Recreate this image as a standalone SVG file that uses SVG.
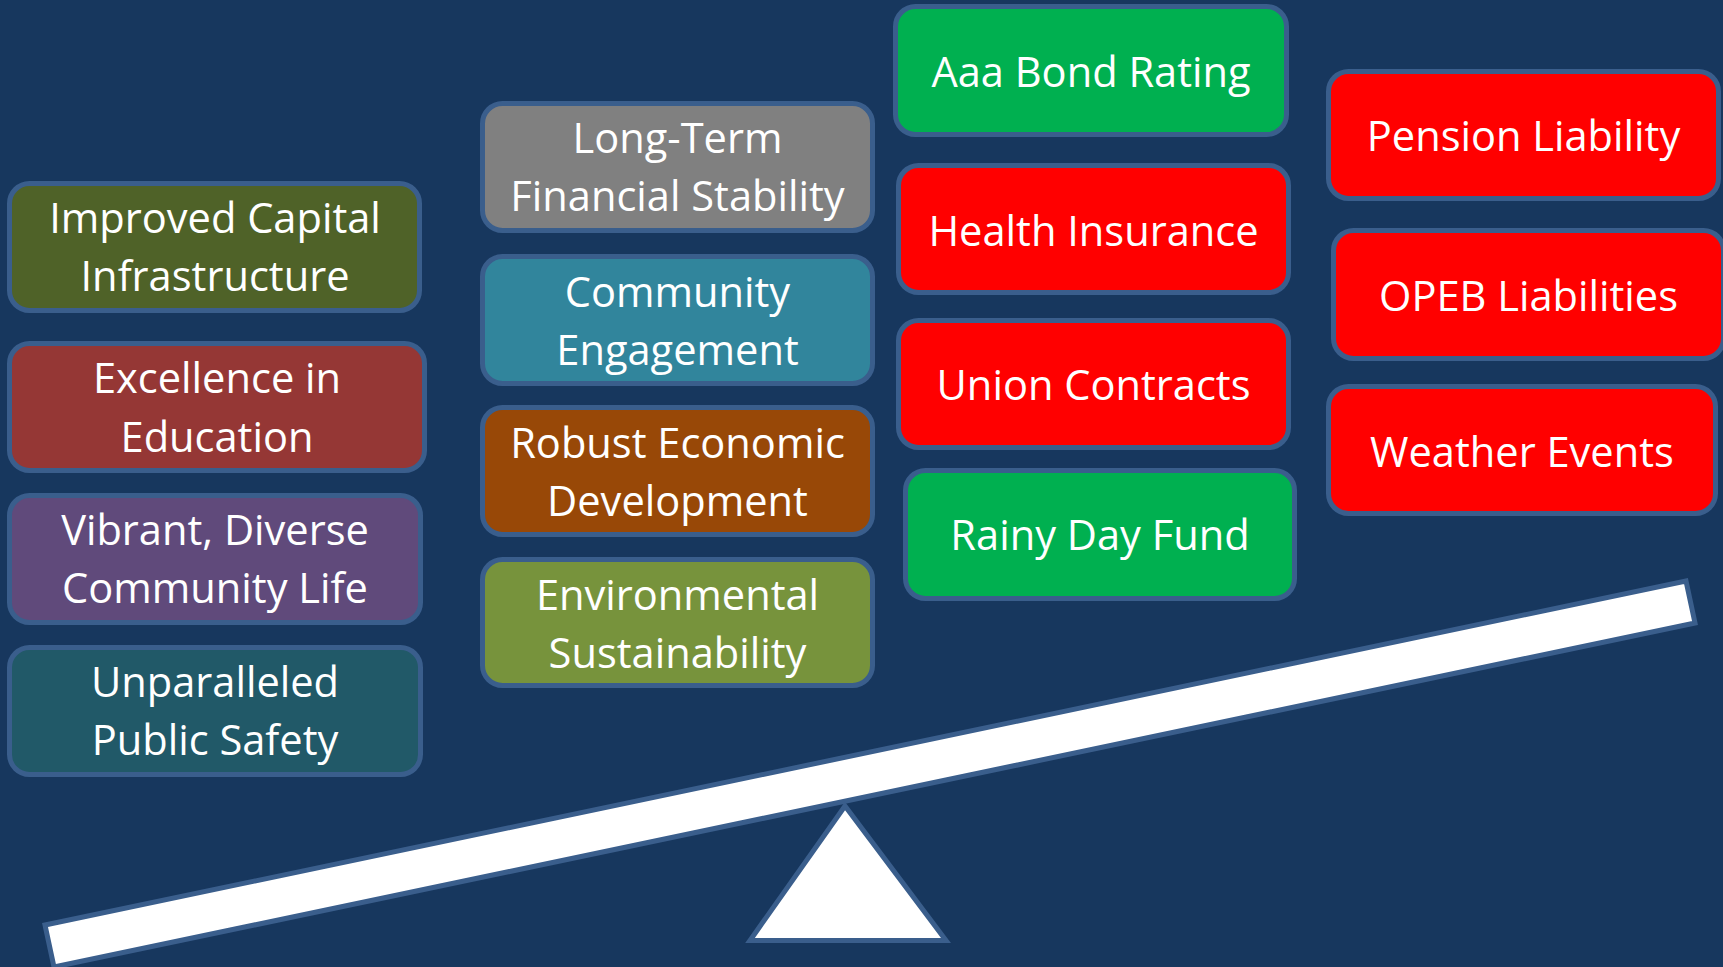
<svg xmlns="http://www.w3.org/2000/svg" width="1723" height="967" viewBox="0 0 1723 967">
<style>
.box{stroke:#3A5E8C;stroke-width:5}
.t{font-family:"Open Sans","Noto Sans","Liberation Sans",sans-serif;font-size:41.6px;fill:#FFFFFF;text-anchor:middle}
.scale{fill:#FFFFFF;stroke:#3A5E8C;stroke-width:5;stroke-linejoin:miter}
</style>
<rect x="0" y="0" width="1723" height="967" fill="#17375E"/>

<g id="node-improved-capital"><rect class="box" x="9.5" y="183.5" width="410" height="127" rx="20" fill="#4F6228"/><text class="t" x="215" y="233">Improved Capital</text><text class="t" x="215" y="291">Infrastructure</text></g>
<g id="node-excellence-education"><rect class="box" x="9.5" y="343.5" width="415" height="127" rx="20" fill="#953735"/><text class="t" x="217" y="393">Excellence in</text><text class="t" x="217" y="452">Education</text></g>
<g id="node-vibrant-community"><rect class="box" x="9.5" y="495.5" width="411" height="127" rx="20" fill="#604A7B"/><text class="t" x="215" y="545">Vibrant, Diverse</text><text class="t" x="215" y="603">Community Life</text></g>
<g id="node-public-safety"><rect class="box" x="9.5" y="647.5" width="411" height="127" rx="20" fill="#215968"/><text class="t" x="215" y="697">Unparalleled</text><text class="t" x="215" y="755">Public Safety</text></g>

<g id="node-financial-stability"><rect class="box" x="482.5" y="103.5" width="390" height="127" rx="20" fill="#808080"/><text class="t" x="677.5" y="153">Long-Term</text><text class="t" x="677.5" y="211">Financial Stability</text></g>
<g id="node-community-engagement"><rect class="box" x="482.5" y="256.5" width="390" height="127" rx="20" fill="#31859C"/><text class="t" x="677.5" y="307">Community</text><text class="t" x="677.5" y="365">Engagement</text></g>
<g id="node-economic-development"><rect class="box" x="482.5" y="407.5" width="390" height="127" rx="20" fill="#984807"/><text class="t" x="677.5" y="458">Robust Economic</text><text class="t" x="677.5" y="516">Development</text></g>
<g id="node-environmental"><rect class="box" x="482.5" y="559.5" width="390" height="126" rx="20" fill="#77933C"/><text class="t" x="677.5" y="610">Environmental</text><text class="t" x="677.5" y="668">Sustainability</text></g>

<g id="node-aaa-bond"><rect class="box" x="895.5" y="6.5" width="391" height="128" rx="20" fill="#00B050"/><text class="t" x="1091" y="87">Aaa Bond Rating</text></g>
<g id="node-health-insurance"><rect class="box" x="898.5" y="165.5" width="390" height="127" rx="20" fill="#FF0000"/><text class="t" x="1093.5" y="246">Health Insurance</text></g>
<g id="node-union-contracts"><rect class="box" x="898.5" y="320.5" width="390" height="127" rx="20" fill="#FF0000"/><text class="t" x="1093.5" y="400">Union Contracts</text></g>
<g id="node-rainy-day"><rect class="box" x="905.5" y="470.5" width="389" height="128" rx="20" fill="#00B050"/><text class="t" x="1100" y="550">Rainy Day Fund</text></g>

<g id="node-pension"><rect class="box" x="1328.5" y="71.5" width="390" height="127" rx="20" fill="#FF0000"/><text class="t" x="1523.5" y="151">Pension Liability</text></g>
<g id="node-opeb"><rect class="box" x="1333.5" y="230.5" width="390" height="128" rx="20" fill="#FF0000"/><text class="t" x="1528.5" y="311">OPEB Liabilities</text></g>
<g id="node-weather"><rect class="box" x="1328.5" y="386.5" width="387" height="127" rx="20" fill="#FF0000"/><text class="t" x="1522" y="467">Weather Events</text></g>

<g id="connectors"></g>

<g id="scale">
<polygon class="scale" points="45,925 1686,581 1695,623 54,967"/>
<polygon class="scale" points="845,806 946,940.5 750,940.5"/>
</g>
</svg>
